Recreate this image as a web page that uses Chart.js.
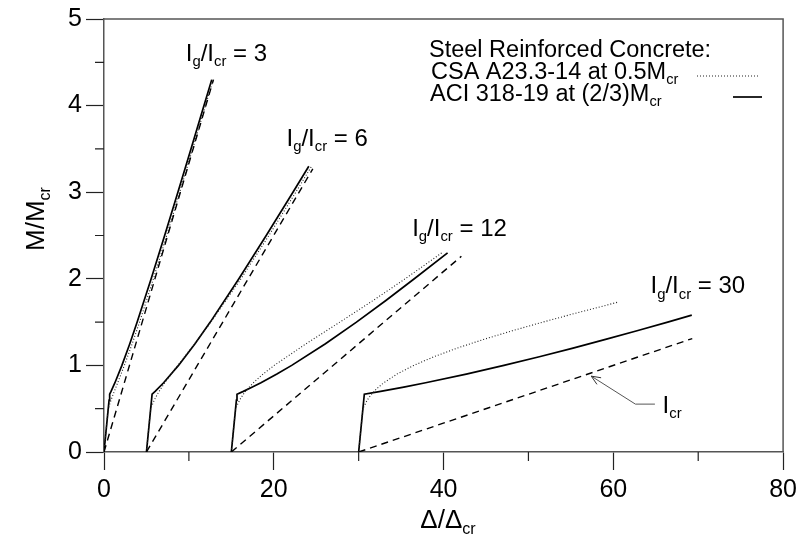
<!DOCTYPE html>
<html>
<head>
<meta charset="utf-8">
<script src="https://cdn.jsdelivr.net/npm/chart.js@4.4.1/dist/chart.umd.min.js"></script>
<style>
  html, body { margin: 0; padding: 0; background: #fff; }
  canvas { display: block; }
</style>
</head>
<body>
<canvas id="chart" width="802" height="554"></canvas>
<script>
// Data: moment ratio M/Mcr (y) vs deflection ratio (x) -------------------------
// Ig/Icr = 3 (no offset)
const m3 = [0, 0.5, 0.6, 0.667, 0.7, 0.8, 1.0, 1.25, 1.5, 2.0, 2.5, 3.0, 3.5, 4.0, 4.3];
const aci3 = [0, 0.5, 0.6, 0.667, 0.83, 1.289, 2.111, 3.039, 3.907, 5.556, 7.144, 8.704, 10.246, 11.778, 12.693];
const csa3 = [0, 0.5, 0.834, 1.085, 1.215, 1.613, 2.4, 3.324, 4.19, 5.818, 7.382, 8.918, 10.439, 11.954, 12.86];
const icr3M = [0, 4.3];
const icr3 = [0, 12.9];

// Ig/Icr = 6 (shifted to start at 5)
const m6 = [0, 0.5, 0.6, 0.667, 0.7, 0.8, 1.0, 1.25, 1.5, 2.0, 2.5, 3.0, 3.3];
const aci6 = [5, 5.5, 5.6, 5.667, 6.025, 7.022, 8.778, 10.722, 12.519, 15.889, 19.111, 22.259, 24.127];
const csa6 = [5, 5.5, 5.925, 6.287, 6.488, 7.162, 8.692, 10.682, 12.594, 16.13, 19.425, 22.595, 24.458];
const icr6M = [0, 3.27];
const icr6 = [5, 24.6];

// Ig/Icr = 12 (shifted to start at 15)
const m12 = [0, 0.5, 0.6, 0.667, 0.7, 0.75, 0.8, 0.9, 1.0, 1.25, 1.5, 1.75, 2.0, 2.3];
const aci12 = [15, 15.5, 15.6, 15.667, 16.416, 17.481, 18.489, 20.368, 22.111, 26.089, 29.741, 33.206, 36.556, 40.474];
const csa12 = [15, 15.5, 15.978, 16.419, 16.677, 17.113, 17.605, 18.742, 20.053, 23.803, 27.788, 31.714, 35.481, 39.798];
const icr12M = [0, 2.26];
const icr12 = [15, 42.1];

// Ig/Icr = 30 (shifted to start at 30)
const m30 = [0, 0.5, 0.6, 0.667, 0.7, 0.75, 0.8, 0.9, 1.0, 1.1, 1.2, 1.3, 1.4, 1.5, 1.58];
const aci30 = [30, 30.5, 30.6, 30.667, 32.587, 35.315, 37.889, 42.679, 47.111, 51.283, 55.259, 59.085, 62.794, 66.407, 69.242];
const m30csa = [0, 0.5, 0.6, 0.667, 0.7, 0.75, 0.8, 0.9, 1.0, 1.1, 1.2, 1.3, 1.4, 1.5, 1.6, 1.73];
const csa30 = [30, 30.5, 31.012, 31.512, 31.815, 32.346, 32.971, 34.521, 36.487, 38.863, 41.621, 44.718, 48.097, 51.698, 55.465, 60.528];
const icr30M = [0, 1.31];
const icr30 = [30, 69.3];

// Icr pointer (label end -> elbow -> tip)
const arrowX = [64.9, 62.6, 57.4];
const arrowY = [0.553, 0.553, 0.876];

// Axis ticks
const xMajorStep = 20;
const yMajorStep = 1;
const xMinorTicks = [10, 30, 50, 70];
const yMinorTicks = [0.5, 1.5, 2.5, 3.5, 4.5];

// Curve labels (text, anchor in data units)
const curveLabels = [
  { text: 'I{g}/I{cr} = 3', x: 9.63, y: 4.516 },
  { text: 'I{g}/I{cr} = 6', x: 21.5, y: 3.537 },
  { text: 'I{g}/I{cr} = 12', x: 36.3, y: 2.5 },
  { text: 'I{g}/I{cr} = 30', x: 64.38, y: 1.832 },
  { text: 'I{cr}', x: 65.8, y: 0.449 }
];

const FONT = '"Liberation Sans", Arial, sans-serif';

// Helpers ---------------------------------------------------------------------
const pts = (xs, ys) => xs.map((x, i) => ({ x, y: ys[i] }));

const line = (xs, ys, style) => Object.assign({
  data: pts(xs, ys),
  borderColor: '#000',
  pointRadius: 0,
  tension: 0,
  fill: false
}, style);

const SOLID = { borderWidth: 1.7 };
const DOTTED = { borderWidth: 1.1, borderDash: [1, 2], borderColor: '#222' };
const DASHED = { borderWidth: 1.4, borderDash: [7, 5] };

// text with {subscript} parts
function drawRich(ctx, str, x, y, size, align) {
  const parts = str.split(/(\{[^}]*\})/).filter(p => p.length);
  const subSize = size * 0.62;
  const seg = parts.map(p => p[0] === '{' ? { t: p.slice(1, -1), sub: true } : { t: p, sub: false });
  let w = 0;
  seg.forEach(s => {
    ctx.font = `${s.sub ? subSize : size}px ${FONT}`;
    s.w = ctx.measureText(s.t).width;
    w += s.w;
  });
  let cx = align === 'center' ? x - w / 2 : x;
  ctx.textAlign = 'left';
  ctx.textBaseline = 'alphabetic';
  seg.forEach(s => {
    ctx.font = `${s.sub ? subSize : size}px ${FONT}`;
    ctx.fillText(s.t, cx, s.sub ? y + size * 0.22 : y);
    cx += s.w;
  });
}

// Extra drawing: frame, minor ticks, labels, legend, axis titles ---------------
const extras = {
  id: 'extras',
  afterDraw(chart) {
    const { ctx, chartArea: a, scales: { x, y } } = chart;
    ctx.save();

    // top and right frame
    ctx.strokeStyle = '#555';
    ctx.lineWidth = 1.5;
    ctx.beginPath();
    ctx.moveTo(a.left, a.top);
    ctx.lineTo(a.right, a.top);
    ctx.lineTo(a.right, a.bottom);
    ctx.stroke();

    // minor ticks
    ctx.strokeStyle = '#222';
    ctx.lineWidth = 1.2;
    ctx.beginPath();
    xMinorTicks.forEach(v => {
      const px = x.getPixelForValue(v);
      ctx.moveTo(px, a.bottom);
      ctx.lineTo(px, a.bottom + 9);
    });
    yMinorTicks.forEach(v => {
      const py = y.getPixelForValue(v);
      ctx.moveTo(a.left, py);
      ctx.lineTo(a.left - 9, py);
    });
    ctx.stroke();

    // curve labels
    ctx.fillStyle = '#000';
    curveLabels.forEach(l => {
      drawRich(ctx, l.text, x.getPixelForValue(l.x), y.getPixelForValue(l.y), 24, 'left');
    });

    // arrow head on the Icr pointer
    const n = arrowX.length - 1;
    const tx = x.getPixelForValue(arrowX[n]), ty = y.getPixelForValue(arrowY[n]);
    const bx = x.getPixelForValue(arrowX[n - 1]), by = y.getPixelForValue(arrowY[n - 1]);
    const ang = Math.atan2(by - ty, bx - tx);
    ctx.strokeStyle = '#333';
    ctx.lineWidth = 1;
    ctx.beginPath();
    [-0.4, 0.4].forEach(d => {
      ctx.moveTo(tx, ty);
      ctx.lineTo(tx + 10 * Math.cos(ang + d), ty + 10 * Math.sin(ang + d));
    });
    ctx.stroke();

    // legend
    ctx.fillStyle = '#000';
    drawRich(ctx, 'Steel Reinforced Concrete:', 429, 57, 23.5, 'left');
    drawRich(ctx, 'CSA A23.3-14 at 0.5M{cr}', 431, 79, 23.5, 'left');
    drawRich(ctx, 'ACI 318-19 at (2/3)M{cr}', 430, 101, 23.5, 'left');
    ctx.strokeStyle = '#222';
    ctx.lineWidth = 1.1;
    ctx.setLineDash([1, 2]);
    ctx.beginPath();
    ctx.moveTo(697, 76);
    ctx.lineTo(760, 76);
    ctx.stroke();
    ctx.setLineDash([]);
    ctx.strokeStyle = '#000';
    ctx.lineWidth = 1.7;
    ctx.beginPath();
    ctx.moveTo(733, 97);
    ctx.lineTo(762, 97);
    ctx.stroke();

    // axis titles
    drawRich(ctx, 'Δ/Δ{cr}', 448, 528, 26, 'center');
    ctx.translate(44, 219);
    ctx.rotate(-Math.PI / 2);
    drawRich(ctx, 'M/M{cr}', 0, 0, 26, 'center');

    ctx.restore();
  }
};

// Chart -----------------------------------------------------------------------
document.addEventListener('DOMContentLoaded', () => {
  const ctx = document.getElementById('chart').getContext('2d');

  new Chart(ctx, {
    type: 'line',
    data: {
      datasets: [
        line(icr3, icr3M, DASHED),
        line(icr6, icr6M, DASHED),
        line(icr12, icr12M, DASHED),
        line(icr30, icr30M, DASHED),
        line(csa3, m3, DOTTED),
        line(csa6, m6, DOTTED),
        line(csa12, m12, DOTTED),
        line(csa30, m30csa, DOTTED),
        line(aci3, m3, SOLID),
        line(aci6, m6, SOLID),
        line(aci12, m12, SOLID),
        line(aci30, m30, SOLID),
        line(arrowX, arrowY, { borderWidth: 1, borderColor: '#555' })
      ]
    },
    options: {
      responsive: false,
      animation: false,
      devicePixelRatio: 1,
      layout: { padding: { top: 18, right: 17, left: 0, bottom: 0 } },
      plugins: {
        legend: { display: false },
        tooltip: { enabled: false }
      },
      scales: {
        x: {
          type: 'linear',
          min: 0,
          max: 80,
          ticks: { stepSize: xMajorStep, color: '#000', padding: 5, font: { family: FONT, size: 25 } },
          grid: { drawOnChartArea: false, tickLength: 18, tickColor: '#222', tickWidth: 1.2 },
          border: { color: '#555', width: 1.5 },
          afterFit: s => { s.height = 102; }
        },
        y: {
          type: 'linear',
          min: 0,
          max: 5,
          ticks: { stepSize: yMajorStep, color: '#000', padding: 4, font: { family: FONT, size: 25 } },
          grid: { drawOnChartArea: false, tickLength: 18, tickColor: '#222', tickWidth: 1.2 },
          border: { color: '#555', width: 1.5 },
          afterFit: s => { s.width = 104; }
        }
      }
    },
    plugins: [extras]
  });
});
</script>
</body>
</html>
